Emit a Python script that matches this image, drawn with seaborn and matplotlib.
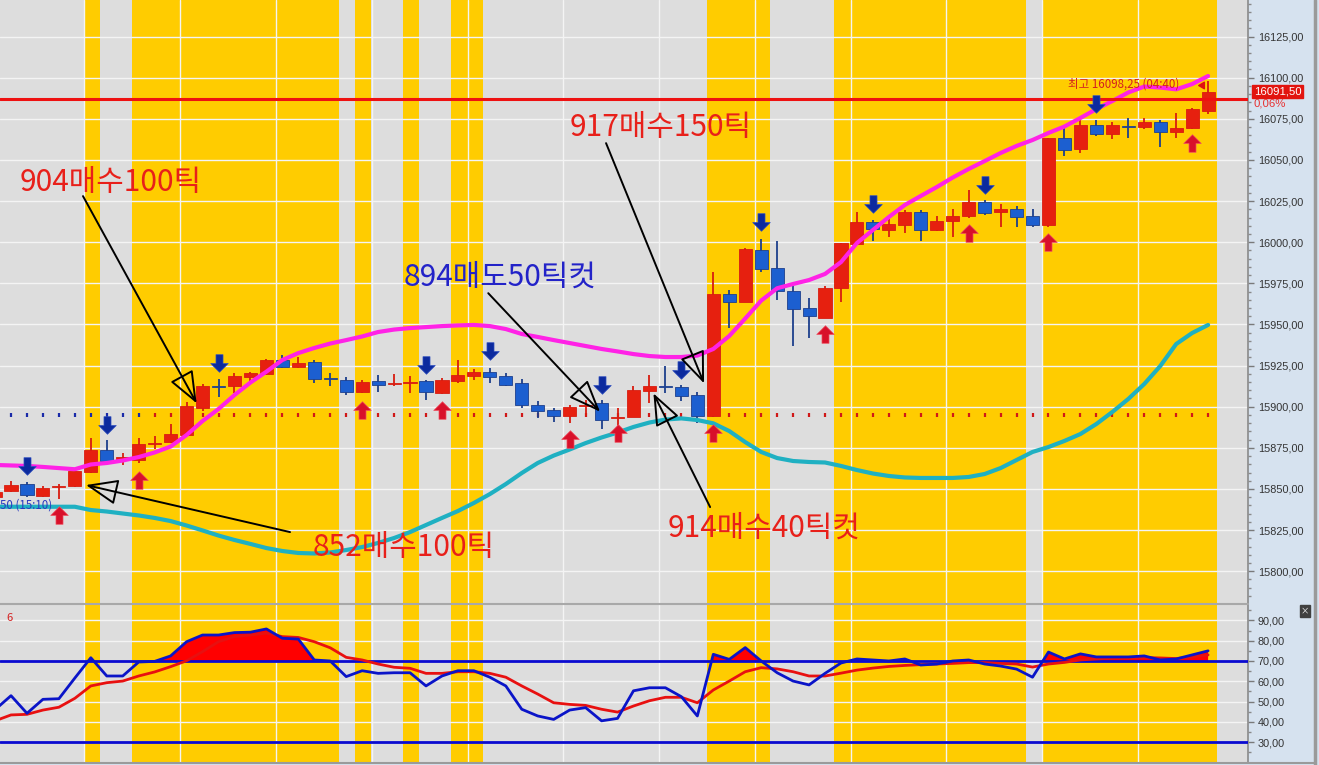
import numpy as np
import pandas as pd
import matplotlib
matplotlib.use("Agg")
import matplotlib.pyplot as plt
import seaborn as sns
from matplotlib.ticker import FuncFormatter, MultipleLocator
from matplotlib.path import Path
from matplotlib.transforms import blended_transform_factory

# ---------------- data ----------------
idx = list(range(-1, 76))
opens = [15845.3, 15848.6, 15853.1, 15845.6, 15851.3, 15851.6, 15860.1, 15873.9, 15868.5, 15867.8,
         15877.2, 15878.3, 15883.0, 15899.2, 15912.5, 15912.3, 15917.8, 15919.9, 15928.1, 15924.1,
         15926.9, 15917.2, 15916.4, 15908.9, 15915.4, 15913.7, 15914.4, 15915.4, 15908.3, 15915.4,
         15918.4, 15921.0, 15918.4, 15914.7, 15901.2, 15897.8, 15894.1, 15900.5, 15902.2, 15893.3,
         15893.7, 15909.3, 15912.5, 15911.7, 15907.3, 15894.1, 15968.6, 15963.9, 15995.3, 15984.5,
         15970.6, 15960.3, 15954.2, 15972.0, 15999.0, 16012.0, 16007.4, 16010.4, 16018.1, 16007.4,
         16012.9, 16016.0, 16024.3, 16018.6, 16020.0, 16016.0, 16010.4, 16063.4, 16056.6, 16071.1,
         16065.7, 16070.3, 16070.1, 16073.2, 16066.7, 16069.5, 16080.0]
highs = [15850.0, 15854.7, 15854.0, 15852.0, 15853.3, 15861.5, 15881.0, 15879.6, 15871.9, 15881.0,
         15882.0, 15889.7, 15902.6, 15914.0, 15916.8, 15920.6, 15921.4, 15929.0, 15931.5, 15930.5,
         15928.5, 15920.4, 15918.0, 15916.4, 15919.4, 15920.0, 15918.4, 15916.4, 15917.4, 15928.5,
         15922.8, 15923.4, 15920.5, 15916.8, 15903.2, 15899.2, 15901.2, 15904.2, 15904.2, 15899.2,
         15912.7, 15919.4, 15924.5, 15913.3, 15908.7, 15982.1, 15971.0, 15996.5, 16001.9, 16000.9,
         15975.0, 15965.9, 15973.4, 15999.6, 16018.5, 16013.5, 16016.5, 16019.5, 16019.5, 16016.0,
         16019.9, 16031.7, 16025.5, 16023.5, 16022.0, 16020.0, 16063.4, 16071.1, 16076.2, 16074.0,
         16073.2, 16075.2, 16075.5, 16074.2, 16078.6, 16081.5, 16098.25]
lows = [15844.8, 15848.0, 15845.4, 15845.0, 15844.0, 15851.0, 15859.5, 15866.2, 15864.8, 15866.0,
        15874.0, 15878.0, 15882.5, 15897.2, 15906.2, 15908.5, 15914.7, 15919.5, 15923.5, 15923.8,
        15914.3, 15912.3, 15907.3, 15908.5, 15908.7, 15912.3, 15908.3, 15904.2, 15908.0, 15914.3,
        15916.0, 15914.3, 15912.5, 15899.2, 15893.1, 15890.7, 15890.1, 15894.1, 15886.4, 15887.0,
        15893.5, 15902.2, 15908.3, 15903.2, 15890.1, 15893.8, 15947.7, 15963.5, 15982.1, 15964.9,
        15937.0, 15941.7, 15953.8, 15963.9, 15998.5, 16001.0, 16003.0, 16005.3, 16001.0, 16006.5,
        16003.0, 16014.5, 16016.5, 16009.3, 16009.0, 16009.5, 16009.5, 16052.3, 16054.0, 16064.5,
        16062.6, 16063.4, 16069.0, 16058.0, 16063.6, 16069.0, 16078.2]
closes = [15848.3, 15852.2, 15846.2, 15850.7, 15851.8, 15860.7, 15873.9, 15866.8, 15869.0, 15877.5,
          15877.8, 15883.6, 15900.2, 15912.7, 15912.0, 15918.8, 15920.4, 15928.1, 15924.1, 15926.5,
          15917.0, 15916.8, 15908.7, 15915.0, 15912.9, 15914.2, 15915.0, 15908.7, 15916.0, 15919.4,
          15921.0, 15918.0, 15913.3, 15901.2, 15897.2, 15894.1, 15899.8, 15901.0, 15892.1, 15893.8,
          15909.9, 15912.3, 15912.0, 15906.7, 15894.5, 15968.6, 15963.9, 15995.9, 15983.7, 15970.4,
          15959.5, 15955.4, 15972.0, 15999.3, 16012.0, 16008.0, 16010.8, 16018.1, 16007.4, 16012.9,
          16016.0, 16024.5, 16018.0, 16020.0, 16015.4, 16010.2, 16063.2, 16055.9, 16071.1, 16065.7,
          16071.1, 16070.0, 16073.2, 16067.1, 16069.7, 16080.8, 16091.5]
upper_band = [15864.6, 15864.3, 15864.0, 15863.4, 15862.7, 15862.0, 15864.9, 15865.8, 15867.3, 15869.4,
              15872.2, 15875.8, 15882.8, 15891.3, 15898.6, 15907.1, 15914.7, 15921.3, 15928.4, 15932.6,
              15935.7, 15938.4, 15940.5, 15942.7, 15945.4, 15946.9, 15947.8, 15948.4, 15949.0, 15949.4,
              15949.7, 15949.0, 15947.2, 15944.2, 15942.4, 15940.5, 15938.7, 15936.9, 15935.1, 15933.6,
              15932.0, 15930.8, 15930.2, 15930.2, 15931.1, 15935.1, 15943.0, 15953.6, 15964.5, 15972.0,
              15974.6, 15977.0, 15980.7, 15987.9, 15999.5, 16007.4, 16015.3, 16022.6, 16028.1, 16033.5,
              16039.3, 16044.5, 16049.3, 16054.2, 16058.5, 16062.1, 16066.4, 16070.3, 16075.5, 16080.9,
              16085.8, 16091.0, 16094.6, 16094.0, 16092.9, 16096.1, 16101.0]
lower_band = [15839.2, 15839.2, 15839.2, 15839.2, 15839.2, 15839.2, 15837.2, 15836.3, 15835.1, 15833.9,
              15832.4, 15830.5, 15827.8, 15824.8, 15821.7, 15819.0, 15816.6, 15814.1, 15812.3, 15811.1,
              15810.8, 15811.4, 15812.9, 15814.7, 15817.2, 15820.2, 15823.8, 15828.1, 15832.4, 15836.6,
              15841.5, 15846.9, 15853.0, 15859.7, 15865.8, 15870.3, 15874.0, 15877.9, 15881.3, 15884.3,
              15887.7, 15890.4, 15892.2, 15892.9, 15891.9, 15889.9, 15885.2, 15878.5, 15872.5, 15868.8,
              15867.0, 15866.4, 15866.1, 15864.0, 15861.5, 15859.4, 15857.9, 15857.0, 15856.7, 15856.7,
              15856.7, 15857.3, 15859.1, 15862.7, 15867.6, 15872.5, 15875.5, 15879.2, 15883.4, 15889.5,
              15896.8, 15904.7, 15913.8, 15924.7, 15938.1, 15944.8, 15949.7]
osc_fast = [46.0, 52.9, 44.2, 51.1, 51.4, 61.6, 71.6, 62.6, 62.6, 69.5,
            69.8, 72.5, 79.5, 82.8, 82.8, 84.0, 84.2, 85.8, 81.2, 80.8,
            70.5, 70.0, 62.3, 65.2, 63.9, 64.2, 64.2, 57.7, 62.6, 65.2,
            65.2, 62.0, 57.7, 46.2, 42.9, 41.2, 45.8, 47.0, 40.5, 41.7,
            55.3, 56.8, 56.8, 52.4, 42.9, 73.3, 70.8, 76.6, 70.0, 64.2,
            60.1, 58.2, 63.9, 69.0, 71.0, 70.5, 70.0, 71.0, 68.0, 68.5,
            70.0, 70.5, 68.5, 67.5, 66.0, 62.0, 74.4, 71.0, 73.5, 72.0,
            72.0, 72.0, 72.5, 70.5, 71.0, 73.0, 75.0]
osc_slow = [40.5, 43.4, 43.7, 45.8, 47.2, 51.6, 57.7, 59.3, 60.1, 62.6,
            64.6, 67.2, 70.1, 74.6, 79.5, 82.0, 82.8, 83.7, 82.0, 81.6,
            79.5, 76.5, 71.8, 70.5, 68.5, 66.9, 66.4, 63.9, 63.9, 64.7,
            64.7, 63.9, 62.0, 57.7, 53.7, 49.4, 48.6, 48.1, 46.2, 44.8,
            47.8, 50.4, 52.1, 52.1, 49.4, 55.7, 60.1, 64.7, 66.7, 66.1,
            64.7, 62.6, 62.6, 64.0, 65.5, 66.5, 67.3, 67.8, 68.2, 68.5,
            68.8, 69.2, 69.2, 68.8, 68.5, 67.0, 68.5, 69.3, 70.5, 71.0,
            71.4, 71.5, 71.7, 71.5, 71.2, 72.0, 73.0]
yellow_bars = [5, 8, 9, 10, 11, 12, 13, 14, 15, 16, 17, 18, 19, 20, 22, 25, 28, 29,
               44, 45, 46, 47, 52, 53, 54, 55, 56, 57, 58, 59, 60, 61, 62, 63,
               65, 66, 67, 68, 69, 70, 71, 72, 73, 74, 75]
buy_idx = [3, 8, 22, 27, 35, 38, 44, 51, 60, 65, 74]
buy_price = [15833.9, 15855.7, 15898.3, 15898.3, 15880.1, 15884.0, 15884.3, 15944.5, 16005.3, 16000.2, 16060.0]
sell_idx = [1, 6, 13, 26, 30, 37, 42, 47, 54, 61, 68]
sell_price = [15863.9, 15888.9, 15926.6, 15925.4, 15933.6, 15913.2, 15922.6, 16012.3, 16023.2, 16034.5, 16083.7]
dot_level = 15895.0
dot_blue_until = 8
hline_level = 16087.0
last_price = 16091.5
high_text = "최고 16098,25 (04:40)"
low_text = "50 (15:10)"
notes = ["904매수100틱", "917매수150틱", "894매도50틱컷", "914매수40틱컷", "852매수100틱"]
note_colors = ["#e8201a", "#e8201a", "#2323c8", "#e8201a", "#e8201a"]
note_xy = [(6.27, 16036.0), (40.73, 16070.0), (30.64, 15978.8), (47.18, 15826.3), (24.62, 15814.7)]
arrow_tail = [(4.51, 16028.0), (37.28, 16060.2), (29.9, 15969.0), (43.8, 15839.0), (17.48, 15823.8)]
arrow_tip = [(11.63, 15902.1), (43.42, 15914.2), (36.9, 15897.0), (40.25, 15908.1), (4.70, 15852.4)]
time_grid = [4.6, 10.6, 16.6, 22.6, 28.6, 34.6, 40.6, 46.6, 52.6, 58.6, 64.6, 70.6]

# ---------------- styling ----------------
sns.set_theme(style="white")
plt.rcParams["font.family"] = ["Noto Sans CJK KR", "DejaVu Sans"]

RED = "#e6200f"
BLUE = "#1c5fd0"
YEL = "#ffcc00"
GRAY_BG = "#dddddd"
PANEL = "#d6e2ef"

fig = plt.figure(figsize=(13.19, 7.65), dpi=100, facecolor=PANEL)
W, H = 1319.0, 765.0
ax1 = fig.add_axes([0, (H - 603) / H, 1248 / W, 603 / H])
ax2 = fig.add_axes([0, (H - 762) / H, 1248 / W, (762 - 605) / H])

xlim = (-0.69, 77.5)
for ax in (ax1, ax2):
    ax.set_facecolor(GRAY_BG)
    ax.set_xlim(*xlim)
    for i in yellow_bars:
        ax.axvspan(i - 0.42, i + 0.58, color=YEL, lw=0, zorder=0)
    for gx in time_grid:
        ax.axvline(gx, color="#f4f4f4", lw=1.0, zorder=0.5)
    ax.yaxis.tick_right()
    ax.tick_params(axis="y", which="major", direction="out", length=4, width=1, colors="#7a7a7a",
                   labelcolor="#333333", labelsize=7.8, pad=3, right=True, left=False)
    ax.tick_params(axis="y", which="minor", direction="out", length=2, width=1, colors="#8a8a8a", right=True)
    ax.tick_params(axis="x", which="both", bottom=False, labelbottom=False)
    for s in ("top", "left", "bottom"):
        ax.spines[s].set_visible(False)
    ax.spines["right"].set_color("#8a8a8a")
    ax.spines["right"].set_linewidth(1.2)

fmt = FuncFormatter(lambda v, p: f"{v:.2f}".replace(".", ","))

# ---------------- main panel ----------------
ax1.set_ylim(15780.7, 16147.2)
ax1.yaxis.set_major_locator(MultipleLocator(25))
ax1.yaxis.set_minor_locator(MultipleLocator(5))
ax1.yaxis.set_major_formatter(fmt)
for yv in np.arange(15800, 16150, 25):
    ax1.axhline(yv, color="#f4f4f4", lw=1.0, zorder=0.5)

df = pd.DataFrame({"i": idx, "o": opens, "h": highs, "l": lows, "c": closes,
                   "up": upper_band, "lo": lower_band, "f": osc_fast, "s": osc_slow})
df["rise"] = df["c"] >= df["o"]
df["col"] = np.where(df["rise"], RED, BLUE)
df["wick"] = np.where(df["rise"], "#d81c10", "#1d3f8c")

# dotted level
dcols = ["#1a2aa8" if i <= dot_blue_until else "#d01818" for i in idx]
ax1.scatter(df["i"], [dot_level] * len(idx), marker="|", s=6, c=dcols, linewidths=1.6, zorder=1)

# bands
sns.lineplot(data=df, x="i", y="up", ax=ax1, color="#ff22e6", lw=3, zorder=4, estimator=None)
sns.lineplot(data=df, x="i", y="lo", ax=ax1, color="#1fb0c2", lw=3, zorder=4, estimator=None)

# candles
ax1.vlines(df["i"], df["l"], df["h"], colors=df["wick"], lw=1.3, zorder=3)
body_h = (df["c"] - df["o"]).abs().clip(lower=0.7)
body_b = np.minimum(df["c"], df["o"])
ax1.bar(df["i"], body_h, bottom=body_b, width=0.82, color=df["col"], edgecolor=df["wick"],
        linewidth=0.6, zorder=3.5)

# signal arrows
up_arrow = Path([(0, 0.5), (0.5, 0.0), (0.2, 0.0), (0.2, -0.5), (-0.2, -0.5), (-0.2, 0.0), (-0.5, 0.0), (0, 0.5)],
                [Path.MOVETO] + [Path.LINETO] * 6 + [Path.CLOSEPOLY])
down_arrow = Path([(0, -0.5), (0.5, 0.0), (0.2, 0.0), (0.2, 0.5), (-0.2, 0.5), (-0.2, 0.0), (-0.5, 0.0), (0, -0.5)],
                  [Path.MOVETO] + [Path.LINETO] * 6 + [Path.CLOSEPOLY])
ax1.scatter(buy_idx, buy_price, marker=up_arrow, s=160, color="#d8102a", edgecolors="#f05060", linewidths=0.5, zorder=6)
ax1.scatter(sell_idx, sell_price, marker=down_arrow, s=160, color="#0c2a9e", edgecolors="#3050c0", linewidths=0.5, zorder=6)
ax1.scatter([74.6], [16095.5], marker=(3, 0, -30), s=30, color="#e01010", zorder=6)

# horizontal line
ax1.axhline(hline_level, color="#ee1111", lw=2.2, zorder=5)

# price box
bt = blended_transform_factory(ax1.transAxes, ax1.transData)
ax1.text(1.0045, last_price, "16091,50", transform=bt, ha="left", va="center", color="white",
         fontsize=8.2, family="Liberation Sans", clip_on=False, zorder=10,
         bbox=dict(boxstyle="square,pad=0.12", fc="#e2140f", ec="#e2140f"))
ax1.text(1.0045, last_price - 7.0, "0,06%", transform=bt, ha="left", va="center", color="#e83030",
         fontsize=8.2, family="Liberation Sans", clip_on=False, zorder=10)

ax1.text(66.2, 16096.0, high_text, ha="left", va="center", color="#d42020", fontsize=8.3, zorder=7)
ax1.text(-0.69, 15840.3, low_text, ha="left", va="center", color="#2a3ac0", fontsize=8.3, zorder=7)

# annotations
for txt, col, (tx, ty), tail, tip in zip(notes, note_colors, note_xy, arrow_tail, arrow_tip):
    ax1.annotate("", xy=tip, xytext=tail,
                 arrowprops=dict(arrowstyle="-|>,head_length=1.0,head_width=0.4", mutation_scale=20,
                                 fc="none", ec="black", lw=1.4, shrinkA=0, shrinkB=0), zorder=8)
    ax1.text(tx, ty, txt, ha="center", va="center", color=col, fontsize=21.5, zorder=9)

# ---------------- sub panel ----------------
ax2.set_ylim(20.2, 97.6)
ax2.yaxis.set_minor_locator(MultipleLocator(5))
ax2.set_yticks(np.arange(30, 100, 10))
ax2.yaxis.set_major_formatter(fmt)
for yv in np.arange(30, 100, 10):
    ax2.axhline(yv, color="#f4f4f4", lw=1.0, zorder=0.5)
ax2.axhline(70, color="#0a0ad0", lw=2, zorder=3)
ax2.axhline(30, color="#0a0ad0", lw=2, zorder=3)
fast = np.array(osc_fast)
ax2.fill_between(df["i"], fast, 70, where=fast > 70, interpolate=True, color="#ff0000", lw=0, zorder=2)
sns.lineplot(data=df, x="i", y="s", ax=ax2, color="#e81010", lw=2, zorder=4, estimator=None)
sns.lineplot(data=df, x="i", y="f", ax=ax2, color="#0a14c8", lw=2, zorder=5, estimator=None)
ax2.text(0.005, 0.95, "6", transform=ax2.transAxes, ha="left", va="top", color="#d42020", fontsize=8)
for ax in (ax1, ax2):
    ax.set_xlabel("")
    ax.set_ylabel("")
    for lab in ax.get_yticklabels():
        lab.set_family("Liberation Sans")

# panel separators and frame
fig.add_artist(plt.Line2D([0, 1248 / W], [(H - 604) / H] * 2, color="#a8a8a8", lw=1.5))
fig.add_artist(plt.Line2D([1314.5 / W] * 2, [0, 1], color="#9a9a9a", lw=2.5))
fig.add_artist(plt.Line2D([0, 1314 / W], [(H - 763) / H] * 2, color="#9a9a9a", lw=1.5))
fig.text(1305 / W, (H - 611) / H, "×", ha="center", va="center", fontsize=6, color="white",
         bbox=dict(boxstyle="square,pad=0.15", fc="#404040", ec="#404040"))

fig.savefig("out.png", dpi=100, facecolor=PANEL)
